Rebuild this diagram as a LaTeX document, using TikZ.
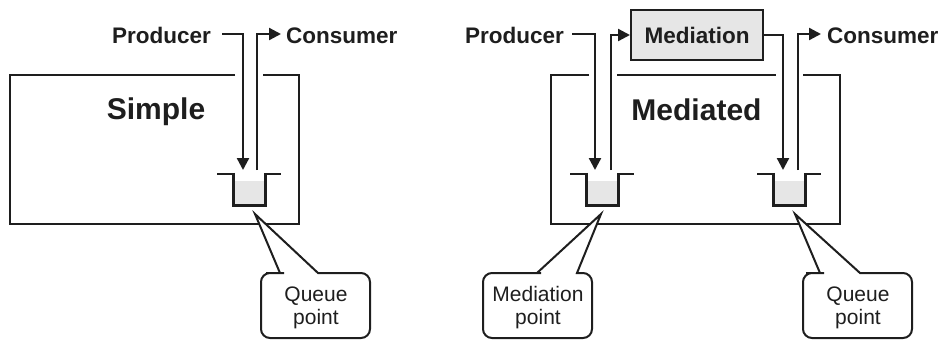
\documentclass[tikz,border=0pt]{standalone}
\usepackage{fontspec}
\setmainfont{Liberation Sans}
\usetikzlibrary{arrows.meta,calc}
\definecolor{fillgray}{RGB}{230,230,230}
\definecolor{ink}{RGB}{30,30,30}
\tikzset{
  arr/.style={draw=ink,line width=2.3pt,-{Triangle[length=12pt,width=12pt]}},
  lbl/.style={inner sep=0pt,font=\fontsize{22.5}{27}\selectfont\bfseries,text=ink},
  title/.style={inner sep=0pt,font=\fontsize{30}{36}\selectfont\bfseries,text=ink},
  note/.style={inner sep=0pt,align=center,font=\fontsize{21}{23}\selectfont,text=ink},
  frame/.style={draw=ink,line width=2pt},
  medbox/.style={draw=ink,line width=2pt,fill=fillgray,minimum width=132pt,minimum height=50pt,inner sep=0pt,font=\fontsize{22.5}{27}\selectfont\bfseries,text=ink},
  callout/.style={draw=ink,line width=2pt,fill=white,line join=miter},
}
\newcommand{\queuecup}[1]{%
  \fill[fillgray] ($(#1)+(-16,7)$) rectangle ($(#1)+(16,31)$);
  \draw[ink,line width=2.3pt] ($(#1)+(-32,0)$) -- ($(#1)+(-16,0)$);
  \draw[ink,line width=2.3pt] ($(#1)+(16,0)$) -- ($(#1)+(32,0)$);
  \draw[ink,line width=3pt,line join=miter] ($(#1)+(-16,-1.1)$) -- ($(#1)+(-16,31)$) -- ($(#1)+(16,31)$) -- ($(#1)+(16,-1.1)$);
}
\newcommand{\calloutshape}[4]{% tip x, left x of rect, base left x, base right x
  \draw[callout] (#2,305) [rounded corners=9pt] -- (#2,273) -- ($(#3,273)+(-5,0)$) [sharp corners] -- (#3,273) -- (#1,214) -- (#4,273) -- ($(#4,273)+(5,0)$) [rounded corners=9pt] -- ($(#2,273)+(109,0)$) -- ($(#2,338)+(109,0)$) -- (#2,338) -- cycle;
}
\begin{document}
\begin{tikzpicture}[x=1pt,y=-1pt]
\useasboundingbox (0,0) rectangle (943,341);

% ---------- Simple ----------
\draw[frame] (235,75) -- (10,75) -- (10,224) -- (299,224) -- (299,75) -- (263,75);
\node[title,anchor=base] (simple) at (156,119) {Simple};
\coordinate (qL) at (249,174);
\queuecup{qL}
\node[lbl,anchor=base east] (prodL) at (211,43) {Producer};
\node[lbl,anchor=base west] (consL) at (286,43) {Consumer};
\coordinate (pLs) at (222,34);
\coordinate (qLin) at (243,170);
\coordinate (qLout) at (257,170);
\coordinate (cLe) at (281,34);
\draw[arr] (pLs) -| (qLin);
\draw[arr] (qLout) |- (cLe);
\calloutshape{255}{261}{280}{318}
\node[note] (qpL) at (316,308) {Queue\\point};

% ---------- Mediated ----------
\draw[frame] (589,75) -- (551,75) -- (551,224) -- (840,224) -- (840,75) -- (803,75);
\draw[frame] (617,75) -- (776,75);
\node[title,anchor=base] (mediated) at (696.5,120) {Mediated};
\node[medbox] (med) at (697,35) {Mediation};
\coordinate (qM1) at (602,174);
\coordinate (qM2) at (789,174);
\queuecup{qM1}
\queuecup{qM2}
\node[lbl,anchor=base east] (prodR) at (564,43) {Producer};
\node[lbl,anchor=base west] (consR) at (827,43) {Consumer};
\coordinate (pRs) at (572,34);
\coordinate (q1in) at (595,170);
\coordinate (q1out) at (611,170);
\coordinate (q2in) at (783,170);
\coordinate (q2out) at (798,170);
\coordinate (cRe) at (821,34);
\draw[arr] (pRs) -| (q1in);
\draw[arr] (q1out) |- (med.west);
\draw[arr] (med.east) -| (q2in);
\draw[arr] (q2out) |- (cRe);
\calloutshape{601}{483}{537}{577}
\node[note] (mp) at (538,308) {Mediation\\point};
\calloutshape{795}{803}{820}{860}
\node[note] (qpR) at (858,308) {Queue\\point};
\end{tikzpicture}
\end{document}
